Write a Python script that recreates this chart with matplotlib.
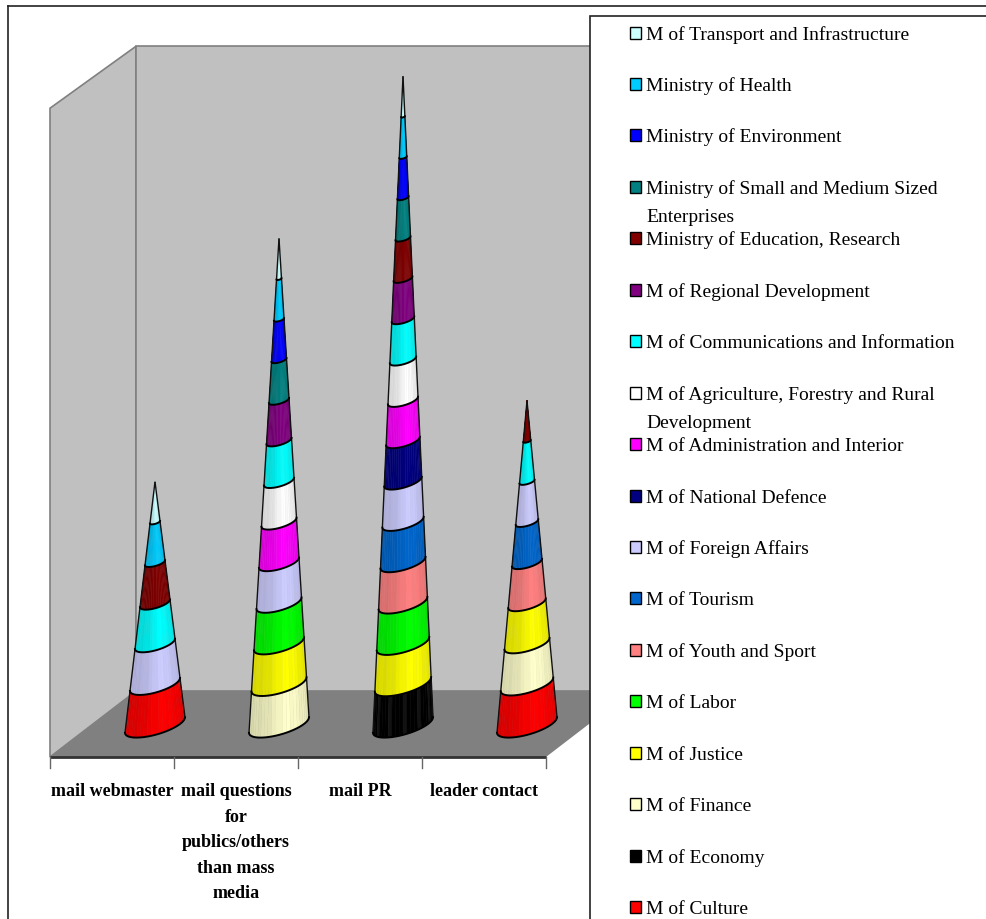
import numpy as np
import matplotlib
matplotlib.use("Agg")
import matplotlib.pyplot as plt
from matplotlib.colors import to_rgb
from matplotlib.patches import Rectangle, Polygon

categories = ["mail webmaster", "mail questions\nfor\npublics/others\nthan mass\nmedia", "mail PR", "leader contact"]

# series bottom to top, same order as the stacks
series_names = [
    "M of Culture", "M of Economy", "M of Finance", "M of Justice", "M of Labor",
    "M of Youth and Sport", "M of Tourism", "M of Foreign Affairs", "M of National Defence",
    "M of Administration and Interior", "M of Agriculture, Forestry and Rural\nDevelopment",
    "M of Communications and Information", "M of Regional Development",
    "Ministry of Education, Research", "Ministry of Small and Medium Sized\nEnterprises",
    "Ministry of Environment", "Ministry of Health", "M of Transport and Infrastructure",
]
series_colors = [
    "#FF0000", "#000000", "#FFFFCC", "#FFFF00", "#00FF00",
    "#FF8080", "#0066CC", "#CCCCFF", "#000080",
    "#FF00FF", "#FFFFFF",
    "#00FFFF", "#800080",
    "#800000", "#008080",
    "#0000FF", "#00CCFF", "#CCFFFF",
]

mail_webmaster = [1, 0, 0, 0, 0, 0, 0, 1, 0, 0, 0, 1, 0, 1, 0, 0, 1, 1]
mail_questions = [0, 0, 1, 1, 1, 0, 0, 1, 0, 1, 1, 1, 1, 0, 1, 1, 1, 1]
mail_pr        = [0, 1, 0, 1, 1, 1, 1, 1, 1, 1, 1, 1, 1, 1, 1, 1, 1, 1]
leader_contact = [1, 0, 1, 1, 0, 1, 1, 1, 0, 0, 0, 1, 0, 1, 0, 0, 0, 0]
columns = [mail_webmaster, mail_questions, mail_pr, leader_contact]

axis_max = 15.9

W, H = 987, 920
# pixel scale of the plot, front edge of the floor at x=50, y=758
PX_X = 124.0
PX_Y = 40.55
LEFT = 50
FLOOR = 758
DEPTH_X = 86 / PX_X
DEPTH_Y = 66 / PX_Y
CONE_R = 30.0
SHEAR = 0.26
ROUND = 0.33

plt.rcParams['font.family'] = ['Liberation Serif', 'DejaVu Serif']

fig = plt.figure(figsize=(W / 100, H / 100), dpi=100, facecolor="white")
ax = fig.add_axes([0, 0, 1, 1])
ax.set_xlim(-0.5 - LEFT / PX_X, -0.5 + (W - LEFT) / PX_X)
ax.set_ylim(-(H - FLOOR) / PX_Y, FLOOR / PX_Y)
ax.axis("off")

n = len(categories)
x0, x1 = -0.5, n - 0.5

# walls and floor
wall = "#C0C0C0"
edge = "#808080"
ax.add_patch(Polygon([(x0, 0), (x0 + DEPTH_X, DEPTH_Y), (x0 + DEPTH_X, DEPTH_Y + axis_max), (x0, axis_max + 0.1)],
                     fc=wall, ec=edge, lw=1.2, zorder=1))
ax.add_patch(Polygon([(x0 + DEPTH_X, DEPTH_Y), (x1 + DEPTH_X, DEPTH_Y), (x1 + DEPTH_X, DEPTH_Y + axis_max), (x0 + DEPTH_X, DEPTH_Y + axis_max)],
                     fc=wall, ec=edge, lw=1.2, zorder=1))
ax.add_patch(Polygon([(x0, 0), (x1, 0), (x1 + DEPTH_X, DEPTH_Y), (x0 + DEPTH_X, DEPTH_Y)],
                     fc=edge, ec="none", zorder=2))

# axis line and ticks
ax.plot([x0, x1], [0, 0], color="#333333", lw=2, zorder=3, solid_capstyle="butt")
for i in range(n + 1):
    ax.plot([x0 + i, x0 + i], [0, -11 / PX_Y], color="#666666", lw=1, zorder=3)

for i, lab in enumerate(categories):
    for j, line in enumerate(lab.split("\n")):
        ax.text(i, -(796 - FLOOR + 25.6 * j) / PX_Y, line, ha="center", va="baseline",
                fontsize=13, fontweight="bold", color="black", zorder=6)


def ring(cx, cy, v, total, t):
    # points of the cone's circle at height v, t=0 on the right, t=pi on the left
    r = CONE_R * (1 - v / total)
    xs = cx + r * np.cos(t) / PX_X
    ys = cy + v + r * (SHEAR * np.cos(t) - ROUND * np.sin(t)) / PX_Y
    return xs, ys


def shade(color, t, k):
    pos = (1 + np.cos(t)) / 2  # 0 left, 1 right
    f = 0.86 + 0.14 * np.exp(-((pos - 0.66) / 0.3) ** 2)
    if k % 3 == 0:
        f = f * 0.98
    rgb = np.array(to_rgb(color)) * f
    if color == "#000000":
        rgb = rgb + (0.07 if k % 4 == 0 else 0.0)
    return tuple(np.clip(rgb, 0, 1))


ts = np.linspace(np.pi, 0, 25)
for i, col in enumerate(columns):
    cx = i + 43 / PX_X
    cy = (FLOOR - 726) / PX_Y
    total = sum(col)
    bottom = 0
    for k in range(len(col)):
        if col[k] == 0:
            continue
        top = bottom + col[k]
        xa, ya = ring(cx, cy, bottom, total, ts)
        xb, yb = ring(cx, cy, top, total, ts)
        for m in range(len(ts) - 1):
            tm = (ts[m] + ts[m + 1]) / 2
            c = shade(series_colors[k], tm, m)
            ax.fill([xa[m], xa[m + 1], xb[m + 1], xb[m]], [ya[m], ya[m + 1], yb[m + 1], yb[m]],
                    fc=c, ec=c, lw=0.3, zorder=4)
        # side edges and lower boundary of the segment
        ax.plot([xa[0], xb[0]], [ya[0], yb[0]], color="#111111", lw=1.0, zorder=5, solid_capstyle="butt")
        ax.plot([xa[-1], xb[-1]], [ya[-1], yb[-1]], color="#111111", lw=1.0, zorder=5, solid_capstyle="butt")
        ax.plot(xa, ya, color="black", lw=1.4, zorder=5)
        bottom = top


def fx(p):
    return p / W


def fy(p):
    return 1 - p / H


# frames
fig.add_artist(plt.Line2D([fx(8.5), fx(8.5)], [fy(7), 0], color="#222222", lw=1.2))
fig.add_artist(plt.Line2D([fx(8), 1], [fy(7), fy(7)], color="#222222", lw=1.2))
fig.add_artist(Rectangle((fx(590.5), -0.01), 1, fy(16.5) + 0.01, transform=fig.transFigure,
                         fc="white", ec="#222222", lw=1.2, zorder=7))

# legend, top entry first
slot = 33.5
for k in range(len(series_names) - 1, -1, -1):
    fig.add_artist(Rectangle((fx(630.5), fy(slot + 6)), 11 / W, 12 / H, transform=fig.transFigure,
                             fc=series_colors[k], ec="black", lw=1, zorder=8))
    for j, line in enumerate(series_names[k].split("\n")):
        fig.text(fx(646), fy(slot + 6 + 28.5 * j), line, ha="left", va="baseline",
                 fontsize=14, color="black", zorder=8)
    slot += 51.45

fig.savefig("out.png", dpi=100)
